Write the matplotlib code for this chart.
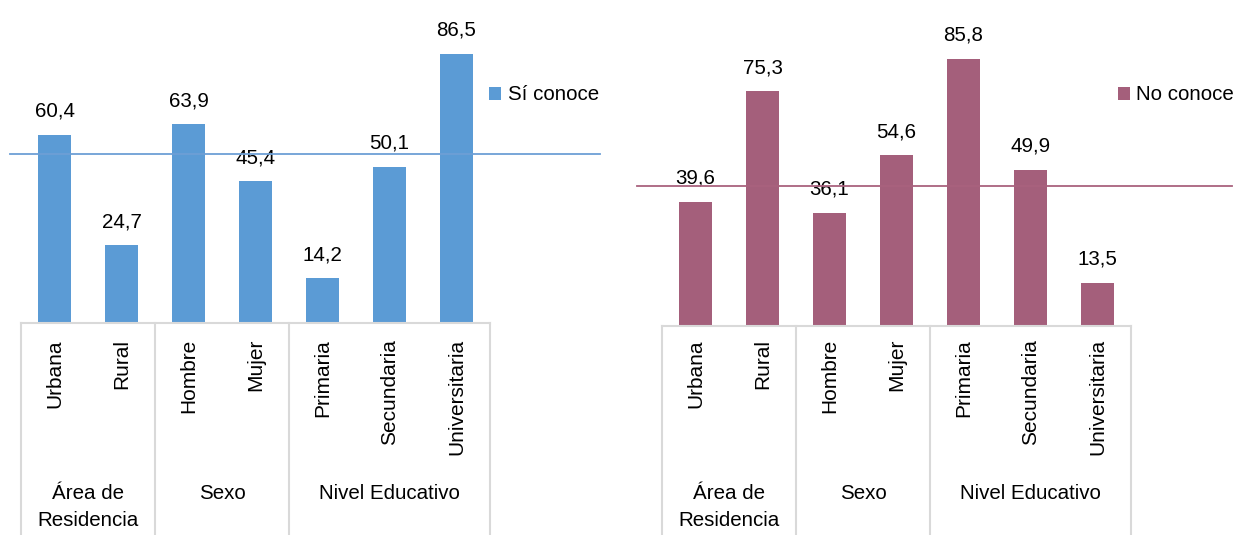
import matplotlib
matplotlib.use("Agg")
import matplotlib.pyplot as plt
from matplotlib.transforms import blended_transform_factory
from matplotlib.lines import Line2D

plt.rcParams['font.family'] = ['Liberation Sans', 'DejaVu Sans']

# datos
categorias = ["Urbana", "Rural", "Hombre", "Mujer", "Primaria", "Secundaria", "Universitaria"]
grupos = ["Área de\nResidencia", "Sexo", "Nivel Educativo"]
tam_grupos = [2, 2, 3]
si_conoce = [60.4, 24.7, 63.9, 45.4, 14.2, 50.1, 86.5]
no_conoce = [39.6, 75.3, 36.1, 54.6, 85.8, 49.9, 13.5]
ref_si = 54.3
ref_no = 44.7

W, H = 1236, 535
fig = plt.figure(figsize=(W / 100, H / 100), dpi=100)

FS = 14.8
FS_TICK = 15
GRIS = "#d9d9d9"


def px_x(x):
    return x / W


def px_y(y):
    return 1 - y / H


def panel(x0, y_base, valores, color, color_linea, ref, line_x, nombre, leg_x, leg_loc):
    # barras: ancho 469 px, escala 3.1 px por unidad
    ax = fig.add_axes([px_x(x0), px_y(y_base), 469 / W, y_base / H])
    ax.set_xlim(-0.5, 6.5)
    ax.set_ylim(0, y_base / 3.1)
    ax.axis("off")
    x = range(len(valores))
    barras = ax.bar(x, valores, width=0.5, color=color, zorder=3, label=nombre)
    for xi, v in zip(x, valores):
        ax.annotate(f"{v:.1f}".replace(".", ","), (xi, v), xytext=(0, 10),
                    textcoords="offset points", ha="center", va="bottom",
                    fontsize=FS, color="#000000")

    # linea de referencia
    tr = blended_transform_factory(fig.transFigure, ax.transData)
    fig.add_artist(Line2D([px_x(line_x[0]), px_x(line_x[1])], [ref, ref],
                          transform=tr, color=color_linea, lw=1.3, zorder=1))

    # caja de categorias
    trb = blended_transform_factory(ax.transData, fig.transFigure)
    y_top = px_y(y_base + 1)
    fig.add_artist(Line2D([-0.5, 6.5], [y_top, y_top], transform=trb, color=GRIS, lw=1.5))
    bordes = [-0.5]
    for n in tam_grupos:
        bordes.append(bordes[-1] + n)
    for b in bordes:
        fig.add_artist(Line2D([b, b], [y_top, 0], transform=trb, color=GRIS, lw=1.5))
    for xi, c in zip(x, categorias):
        fig.text(xi, px_y(339), c, transform=trb, rotation=90, ha="center", va="top",
                 fontsize=FS_TICK)
    for i, g in enumerate(grupos):
        centro = (bordes[i] + bordes[i + 1]) / 2
        fig.text(centro, px_y(484), g, transform=trb, ha="center", va="top",
                 fontsize=FS, linespacing=1.5)

    ax.legend(handles=[barras], loc=leg_loc, bbox_to_anchor=(px_x(leg_x), px_y(95)),
              bbox_transform=fig.transFigure, frameon=False, fontsize=FS,
              handlelength=0.6, handleheight=0.6, handletextpad=0.3, borderpad=0,
              borderaxespad=0)
    return ax


panel(21, 322, si_conoce, "#5b9bd5", "#6d9fd6", ref_si, (10, 600), "Sí conoce", 489, "center left")
panel(662, 324.5, no_conoce, "#a45f7b", "#a9627e", ref_no, (637, 1232), "No conoce", 1234, "center right")

fig.savefig("out.png", dpi=100)
